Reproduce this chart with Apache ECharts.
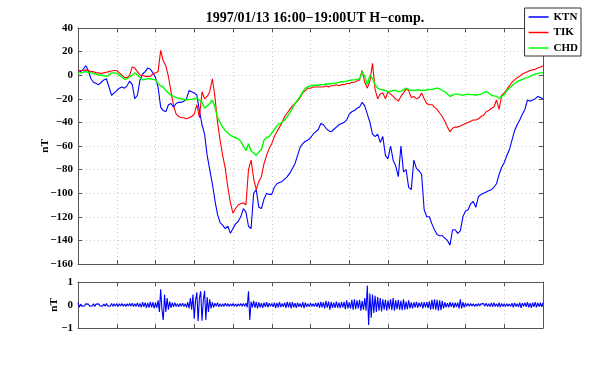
<!DOCTYPE html>
<html><head><meta charset="utf-8">
<script src="https://cdn.jsdelivr.net/npm/echarts@6/dist/echarts.min.js"></script>
<style>html,body{margin:0;padding:0;background:#fff}#c{width:600px;height:370px}</style>
</head><body><div id="c"></div>
<script>
// minutes after 16:00 UT; top series sampled every 1 min, bottom every 0.5 min
const TOP_STEP = 1;
const BOT_STEP = 0.5;
const seriesNames = ["KTN", "TIK", "CHD"];
const yTicksTop = [-160, -140, -120, -100, -80, -60, -40, -20, 0, 20, 40];
const yTicksBot = [-1, 0, 1];

const ktn = [4.4,3,5,8,4,-3,-6,-7,-8,-6,-4,-3,-10,-17,-15,-13,-11,-10,-11,-9,
-5,-8,-20,-17,-4,1,3,6,5,2,-2,-10,-27,-30,-31,-25,-24,-27,-24,-23,
-23,-22,-20,-13,-14,-15,-17,-30,-42,-50,-68,-80,-92,-106,-118,-125,-127,-130,-128,-134,
-130,-126,-124,-120,-113,-116,-128,-130,-100,-97,-112,-113,-105,-100,-101,-101,-95,-92,-91,-90,
-88,-86,-83,-79,-75,-68,-61,-58,-56,-55,-53,-50,-48,-46,-41,-42,-45,-47,-48,-46,
-44,-42,-41,-40,-38,-33,-31,-30,-28,-27,-23,-26,-33,-40,-50,-52,-50,-57,-52,-68,
-71,-60,-72,-77,-86,-60,-82,-80,-95,-97,-72,-79,-81,-84,-114,-120,-120,-126,-131,-135,
-136,-136,-138,-140,-144,-131,-131,-134,-132,-120,-115,-114,-109,-107,-112,-103,-101,-100,-99,-98,
-97,-95,-92,-84,-78,-74,-68,-63,-55,-47,-42,-38,-33,-29,-21,-22,-21,-20,-18,-19,-20];

const tik = [4,4,4,4.5,4,3,3,2,2,1.5,2,2.5,3,3.5,4,4,2,0,-2,-2,
0,7,6,3,0,0,-1,-1,-1,1,2,3,21,12,8,-1,-14,-26,-33,-35,
-36,-36,-37,-36,-35,-33,-25,-36,-14,-20,-18,-14,-3,-18,-40,-55,-68,-79,-95,-108,
-117,-113,-110,-109,-108,-110,-80,-72,-88,-97,-90,-86,-75,-68,-62,-58,-52,-48,-44,-40,
-35,-32,-29,-26,-24,-22,-19,-15,-13,-11,-11,-10,-10,-10,-10,-10,-9,-10,-9,-9,
-8,-9,-8,-8,-7,-7,-6,-6,-5,-4,4,-6,-11,-5,10,-12,-20,-16,-15,-20,
-14,-16,-18,-20,-22,-18,-15,-12,-13,-19,-18,-20,-19,-15,-20,-24,-25,-25,-27,-29,
-32,-35,-39,-44,-48,-45,-44,-44,-43,-42,-41,-40,-39,-38,-38,-37,-35,-34,-31,-30,
-28,-27,-21,-29,-17,-15,-12,-9,-6,-4,-2,-1,1,2,3,4,4.5,5,6,7,8];

const chd = [1.5,2,2.5,3,2.5,2,1.5,1,0,0,-0.5,-1,0,2,2,1.5,0,-1.5,-3.5,-3,
-1.5,0,2,0,-2,-4,-3.5,-3,-3,-3.5,-4,-7,-9,-10,-13,-15,-17,-18,-19,-19.5,
-20,-20.5,-21,-20.5,-20.5,-20,-19.5,-21,-23,-28,-26,-24,-21,-27,-36,-40,-44,-47,-49,-51,
-52,-53,-54,-56,-60,-64,-58,-64,-66,-68,-65,-63,-55,-53,-52,-49,-46,-43,-41,-40,
-38,-35,-32,-28,-24,-21,-18,-14,-11,-10,-9,-8.5,-8.5,-8.5,-8,-8,-7.5,-7.5,-7,-7,
-6.5,-6,-5.5,-5.5,-5,-4.5,-4,-4,-3.5,-3,3,-1,-8,0,-3,-8,-11,-12,-12.5,-13,
-14,-13.5,-13,-13,-14,-13.5,-12.5,-11,-12,-13,-13,-12.5,-12.5,-13,-13,-12.5,-12,-12,-11.5,-11,
-11.5,-13,-14,-16,-18,-17,-16,-16,-16.5,-17,-16.5,-16,-16.5,-16.5,-17,-16.5,-16,-15,-14,-15,
-17,-17.5,-18,-19.5,-18,-16.5,-13,-11,-9,-7,-5.5,-4.5,-3.5,-2.5,-2,-1,0,1,1.5,2,2];

const filtered = [
0.1,-0.1,0.04,-0.05,0.03,-0.04,0.05,-0.03,0.04,-0.05,0.03,-0.04,0.05,-0.06,0.04,-0.03,0.05,-0.04,0.03,-0.05,
0.04,-0.05,0.06,-0.04,0.03,-0.05,0.07,-0.06,0.05,-0.04,0.06,-0.07,0.05,-0.04,0.06,-0.05,0.04,-0.06,0.05,-0.04,
0.06,-0.05,0.08,-0.07,0.05,-0.06,0.09,-0.08,0.07,-0.1,0.12,-0.08,0.1,-0.12,0.09,-0.11,0.14,-0.1,0.12,-0.15,
0.1,-0.12,0.2,-0.3,0.68,-0.2,-0.65,0.45,-0.3,0.3,-0.2,0.15,-0.12,0.1,-0.08,0.1,-0.07,0.06,-0.08,0.07,
-0.06,0.08,-0.07,0.06,-0.1,0.12,-0.15,0.3,-0.2,0.45,-0.6,0.2,0.55,-0.7,0.3,0.6,-0.68,0.2,0.62,-0.65,
0.35,-0.3,0.25,-0.15,0.12,-0.1,0.08,-0.06,0.1,-0.08,0.06,-0.07,0.05,-0.06,0.08,-0.05,0.06,-0.07,0.05,-0.04,
0.06,-0.05,0.04,-0.06,0.05,-0.04,0.06,-0.05,0.07,-0.06,0.08,-0.1,0.6,-0.65,0.15,-0.1,0.18,-0.12,0.14,-0.15,
0.12,-0.1,0.08,-0.12,0.1,-0.08,0.12,-0.1,0.08,-0.06,0.07,-0.08,0.1,-0.12,0.09,-0.1,0.12,-0.09,0.07,-0.08,
0.1,-0.12,0.14,-0.1,0.12,-0.15,0.13,-0.1,0.08,-0.12,0.1,-0.08,0.07,-0.1,0.12,-0.14,0.1,-0.08,0.06,-0.07,
0.08,-0.06,0.05,-0.07,0.09,-0.08,0.1,-0.12,0.14,-0.1,0.12,-0.15,0.18,-0.12,0.15,-0.2,0.14,-0.12,0.1,-0.13,
0.15,-0.12,0.1,-0.14,0.12,-0.1,0.14,-0.18,0.2,-0.15,0.12,-0.16,0.22,-0.2,0.25,-0.18,0.2,-0.15,0.22,-0.25,
0.18,-0.2,0.3,-0.25,0.85,-0.87,0.5,-0.55,0.45,-0.35,0.4,-0.3,0.35,-0.25,0.3,-0.28,0.25,-0.2,0.22,-0.25,
0.2,-0.18,0.25,-0.22,0.3,-0.25,0.2,-0.18,0.22,-0.2,0.18,-0.22,0.25,-0.2,0.15,-0.18,0.2,-0.15,0.12,-0.15,
0.12,-0.1,0.14,-0.12,0.1,-0.08,0.12,-0.15,0.13,-0.1,0.12,-0.14,0.16,-0.2,0.22,-0.18,0.25,-0.2,0.22,-0.25,
0.2,-0.22,0.18,-0.15,0.12,-0.1,0.08,-0.1,0.12,-0.08,0.1,-0.12,0.1,-0.08,0.1,-0.15,0.25,-0.15,0.12,-0.1,
0.08,-0.06,0.07,-0.05,0.06,-0.04,0.05,-0.06,0.04,-0.05,0.06,-0.04,0.05,-0.03,0.06,-0.05,0.08,-0.06,0.05,-0.07,
0.09,-0.08,0.1,-0.07,0.06,-0.08,0.1,-0.09,0.07,-0.06,0.05,-0.07,0.06,-0.05,0.04,-0.06,0.08,-0.1,0.09,-0.07,
0.06,-0.08,0.1,-0.12,0.08,-0.06,0.1,-0.08,0.12,-0.1,0.08,-0.12,0.1,-0.08,0.12,-0.1,0.09,-0.07,0.1,-0.08,
0.1];

const FONT = "Liberation Serif";
const frame = "#555";
const colors = ["#0000ff", "#ff0000", "#00ff00"];
const minus = v => String(v).replace("-", "\u2212");
const pairs = (arr, step) => arr.map((v, i) => [i * step, v]);

function xAx(gi, pos, grid) {
  return {
    type: "value", gridIndex: gi, min: 0, max: 180, interval: 15, position: pos,
    axisLine: { show: true, onZero: false, lineStyle: { color: frame, width: 1 } },
    axisTick: { show: true, inside: true, length: 4, lineStyle: { color: frame } },
    axisLabel: { show: false },
    splitLine: { show: grid, lineStyle: { color: "#c8c8c8", type: [1, 3], width: 1 } }
  };
}
function yAx(gi, pos, min, max, interval, labels, name, gap, grid) {
  return {
    type: "value", gridIndex: gi, min, max, interval, position: pos,
    name: name, nameLocation: "middle", nameGap: gap, nameRotate: 90, nameMoveOverlap: false,
    nameTextStyle: { fontFamily: FONT, fontWeight: "bold", fontSize: 11, color: "#000" },
    axisLine: { show: true, onZero: false, lineStyle: { color: frame, width: 1 } },
    axisTick: { show: true, inside: true, length: 4, lineStyle: { color: frame } },
    axisLabel: { show: labels, formatter: minus, margin: 5, fontFamily: FONT, fontWeight: "bold", fontSize: 11, color: "#000" },
    splitLine: { show: grid, lineStyle: { color: "#c8c8c8", type: [1, 3], width: 1 } }
  };
}

const chart = echarts.init(document.getElementById("c"), null, { renderer: "canvas" });
chart.setOption({
  animation: false,
  backgroundColor: "#fff",
  title: {
    text: "1997/01/13 16:00\u221219:00UT H\u2212comp.",
    left: 310, top: 6, textAlign: "center",
    textStyle: { fontFamily: FONT, fontWeight: "bold", fontSize: 14, color: "#000" }
  },
  legend: {
    orient: "vertical", right: 19, top: 8, padding: [3, 3, 2, 4], itemGap: 3.5,
    icon: "rect", itemWidth: 20, itemHeight: 1.5, borderColor: "#333", borderWidth: 1, backgroundColor: "#fff",
    textStyle: { fontFamily: FONT, fontWeight: "bold", fontSize: 11, color: "#000", lineHeight: 12 },
    data: seriesNames
  },
  grid: [
    { left: 78, top: 28, width: 465, height: 236 },
    { left: 78, top: 282, width: 465, height: 46 }
  ],
  xAxis: [xAx(0, "bottom", true), xAx(0, "top", false), xAx(1, "bottom", true), xAx(1, "top", false)],
  yAxis: [
    yAx(0, "left", yTicksTop[0], yTicksTop[yTicksTop.length - 1], 20, true, "nT", 27, true),
    yAx(0, "right", yTicksTop[0], yTicksTop[yTicksTop.length - 1], 20, false, "", 0, false),
    yAx(1, "left", yTicksBot[0], yTicksBot[yTicksBot.length - 1], 1, true, "nT", 18, false),
    yAx(1, "right", yTicksBot[0], yTicksBot[yTicksBot.length - 1], 1, false, "", 0, false)
  ],
  series: [
    { name: seriesNames[0], type: "line", xAxisIndex: 0, yAxisIndex: 0, data: pairs(ktn, TOP_STEP), symbol: "none", lineStyle: { color: colors[0], width: 1.1 }, itemStyle: { color: colors[0] }, z: 3 },
    { name: seriesNames[1], type: "line", xAxisIndex: 0, yAxisIndex: 0, data: pairs(tik, TOP_STEP), symbol: "none", lineStyle: { color: colors[1], width: 1.1 }, itemStyle: { color: colors[1] }, z: 4 },
    { name: seriesNames[2], type: "line", xAxisIndex: 0, yAxisIndex: 0, data: pairs(chd, TOP_STEP), symbol: "none", lineStyle: { color: colors[2], width: 1.4 }, itemStyle: { color: colors[2] }, z: 5 },
    { name: "filtered", type: "line", xAxisIndex: 2, yAxisIndex: 2, data: pairs(filtered, BOT_STEP), symbol: "none", lineStyle: { color: colors[0], width: 1.1 } }
  ]
});
</script></body></html>
